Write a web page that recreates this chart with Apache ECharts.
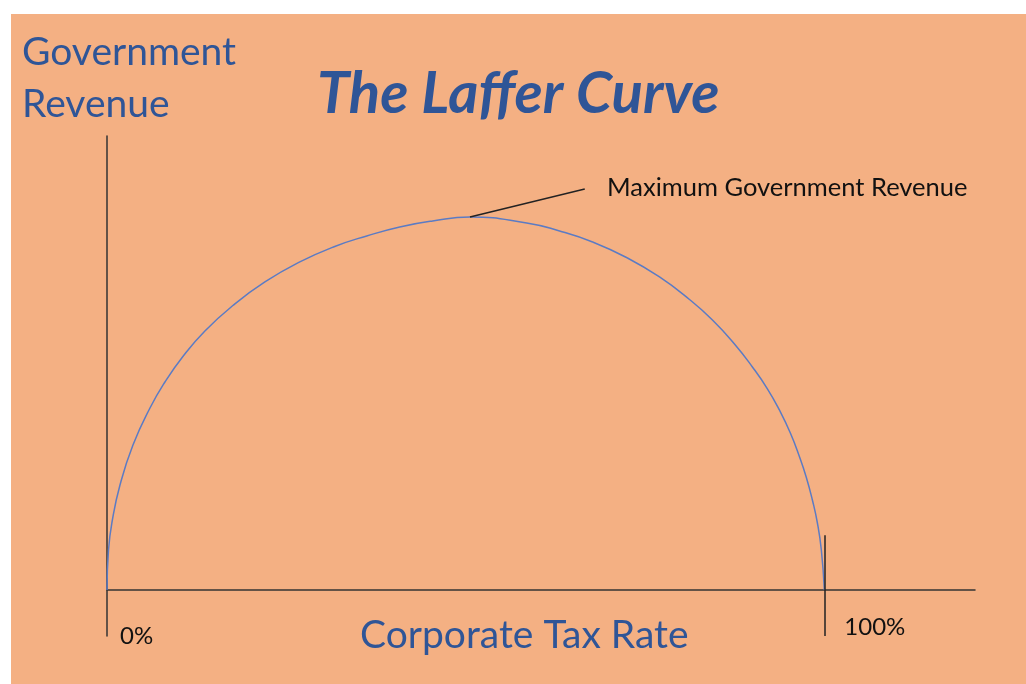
<!DOCTYPE html>
<html>
<head>
<meta charset="utf-8">
<script src="https://cdn.jsdelivr.net/npm/echarts@6/dist/echarts.min.js"></script>
<style>
  html, body { margin: 0; padding: 0; background: #ffffff; }
  #main { width: 1026px; height: 684px; }
</style>
</head>
<body>
<div id="main"></div>
<script>
  // tax rate (%) and revenue (% of the peak)
  const taxRate = [0, 0.21, 0.70, 1.81, 3.62, 5.99, 8.08, 10.58, 13.65, 17.55, 22.01, 26.88, 31.75, 36.21, 40.81, 45.40, 50.56,
                   58.50, 63.09, 67.69, 72.42, 77.02, 81.20, 84.40, 87.47, 89.97, 92.06, 93.73, 95.26, 96.52, 97.49, 98.33, 99.03, 99.58, 100];
  const revenue = [0, 10.72, 18.23, 28.15, 38.87, 48.79, 55.76, 62.60, 69.44, 76.27, 82.57, 87.94, 92.09, 94.91, 97.32, 98.93, 100,
                   98.39, 96.25, 93.30, 89.14, 83.91, 77.88, 72.39, 65.95, 59.79, 53.94, 48.26, 42.09, 35.79, 30.16, 24.13, 17.96, 10.72, 0];
  const tickValues = [0, 100];
  const tickLabels = ['0%', '100%'];
  const peak = [50.6, 100];
  const peakLabelEnd = [66.6, 107.5];
  const fullRateTick = [[100, 14.7], [100, -12.3]];

  const blue = '#2F5597';
  const font = 'Lato, "Open Sans", sans-serif';

  let chart = echarts.init(document.getElementById('main'));

  const option = {
    backgroundColor: '#ffffff',
    animation: false,
    graphic: [
      {
        type: 'rect',
        z: -10,
        silent: true,
        shape: { x: 11, y: 14, width: 1015, height: 670 },
        style: { fill: '#F4B083' }
      }
    ],
    title: [
      {
        text: 'The Laffer Curve',
        left: 317, top: 65, padding: 0,
        textStyle: { color: blue, fontSize: 58, fontWeight: 'bold', fontStyle: 'italic', fontFamily: font }
      },
      {
        text: 'Government\nRevenue',
        left: 22, top: 26, padding: 0,
        textStyle: { color: blue, fontSize: 39, fontWeight: 'normal', lineHeight: 52, fontFamily: font }
      },
      {
        text: 'Corporate Tax Rate',
        left: 360, top: 616, padding: 0,
        textStyle: { color: blue, fontSize: 39, fontWeight: 'normal', fontFamily: font }
      },
      {
        text: 'Maximum Government Revenue',
        left: 607, top: 175, padding: 0,
        textStyle: { color: '#111111', fontSize: 25.5, fontWeight: 'normal', fontFamily: font }
      }
    ],
    grid: { left: 107, right: 51, top: 136, bottom: 48, containLabel: false, outerBoundsMode: 'none' },
    xAxis: {
      type: 'value',
      min: 0,
      max: 121,
      splitLine: { show: false },
      axisTick: { show: false },
      axisLine: { onZero: true, lineStyle: { color: '#333333', width: 1.5 } },
      axisLabel: {
        customValues: tickValues,
        align: 'left',
        verticalAlign: 'middle',
        margin: -9,
        formatter: function (v) {
          const i = tickValues.indexOf(v);
          return i === 0 ? '{a|' + tickLabels[i] + '}' : '{b|' + tickLabels[i] + '}';
        },
        rich: {
          a: { fontSize: 24, color: '#111111', fontFamily: font, padding: [19, 0, 0, 13] },
          b: { fontSize: 24, color: '#111111', fontFamily: font, padding: [0, 0, 0, 20] }
        }
      }
    },
    yAxis: {
      type: 'value',
      min: -12.33,
      max: 121.7,
      splitLine: { show: false },
      axisTick: { show: false },
      axisLabel: { show: false },
      axisLine: { show: true, onZero: false, lineStyle: { color: '#333333', width: 1.5 } }
    },
    series: [
      {
        name: 'Government Revenue',
        type: 'line',
        data: taxRate.map((x, i) => [x, revenue[i]]),
        smooth: 0.5,
        showSymbol: false,
        lineStyle: { color: '#5B7BC4', width: 1.5 },
        markLine: {
          silent: true,
          symbol: 'none',
          label: { show: false },
          lineStyle: { color: '#222222', width: 1.5, type: 'solid' },
          data: [
            [{ coord: peak }, { coord: peakLabelEnd }],
            [{ coord: fullRateTick[0] }, { coord: fullRateTick[1] }]
          ]
        }
      }
    ]
  };

  chart.setOption(option);
</script>
</body>
</html>
